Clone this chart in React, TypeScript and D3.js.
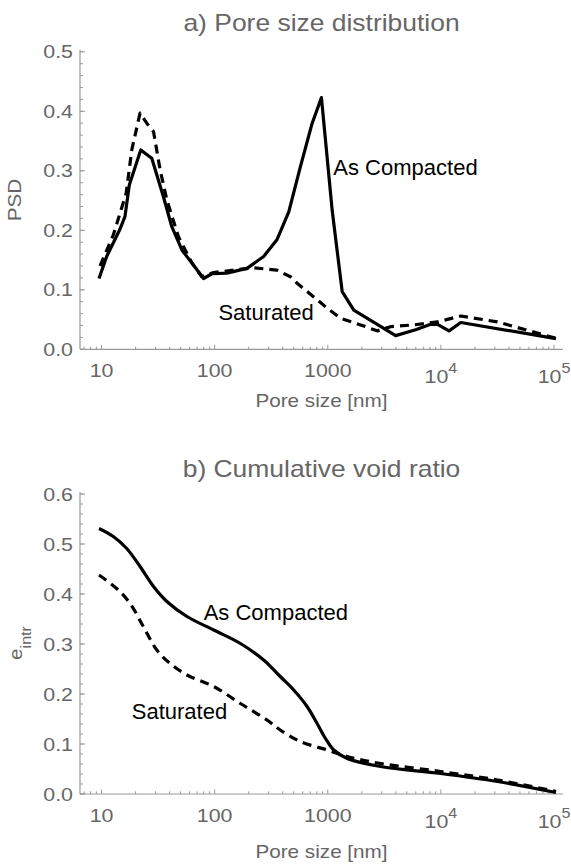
import React from "react";
import * as d3 from "d3";

const W = 571;
const H = 867;
const SX = 1.15; // the grey axis text is drawn a bit wider than plain Arial
const GREY = "#666";
const AXIS = "#9a9a9a";
const FONT = "'Liberation Sans', Arial, sans-serif";

// a) pore size distribution
const psdCompX = [9.5, 11.1, 14.4, 16.1, 17.6, 22.2, 27.8, 35.3, 41.8, 51.3, 62.9, 79.8, 94.6, 128, 193, 271, 355, 452, 573, 728, 879, 1093, 1341, 1698, 2737, 3980, 5980, 8130, 9330, 11800, 15000, 104000];
const psdCompY = [0.119, 0.156, 0.2, 0.223, 0.276, 0.335, 0.321, 0.256, 0.206, 0.167, 0.145, 0.119, 0.127, 0.128, 0.136, 0.156, 0.184, 0.231, 0.307, 0.38, 0.423, 0.234, 0.097, 0.066, 0.042, 0.023, 0.033, 0.042, 0.042, 0.031, 0.045, 0.018];
const psdSatX = [9.7, 12.7, 16.5, 18.5, 21.9, 25.1, 28.8, 33, 37.8, 47.9, 63, 77, 98, 147, 221, 355, 467, 536, 752, 988, 1300, 1950, 2737, 3590, 5750, 9330, 15000, 31600, 104000];
const psdSatY = [0.14, 0.192, 0.262, 0.335, 0.397, 0.38, 0.366, 0.301, 0.251, 0.189, 0.145, 0.122, 0.129, 0.133, 0.137, 0.133, 0.122, 0.111, 0.088, 0.069, 0.052, 0.041, 0.031, 0.038, 0.041, 0.046, 0.056, 0.046, 0.0185];

// b) cumulative void ratio
const cumCompX = [9.5, 12.7, 16.7, 21.9, 28.8, 37.8, 56.9, 98, 169, 271, 380, 500, 656, 805, 955, 1130, 1485, 2930, 9950, 31700, 104000];
const cumCompY = [0.531, 0.515, 0.491, 0.455, 0.415, 0.385, 0.355, 0.328, 0.301, 0.268, 0.235, 0.208, 0.175, 0.141, 0.111, 0.088, 0.071, 0.055, 0.041, 0.025, 0.003];
const cumSatX = [9.5, 13.6, 17.9, 23.4, 30.8, 40.4, 56.9, 98, 169, 290, 380, 573, 988, 1485, 2930, 9950, 31700, 104000];
const cumSatY = [0.438, 0.411, 0.381, 0.335, 0.288, 0.261, 0.238, 0.215, 0.181, 0.148, 0.128, 0.105, 0.088, 0.075, 0.061, 0.045, 0.028, 0.005];

// curve labels, in data coordinates (start of text, baseline)
const psdLabels = [
  { text: "As Compacted", x: 1120, y: 0.293 },
  { text: "Saturated", x: 108, y: 0.049 },
];
const cumLabels = [
  { text: "As Compacted", x: 80, y: 0.348 },
  { text: "Saturated", x: 18.5, y: 0.151 },
];

const xMajor = [10, 100, 1000, 10000, 100000];
const xTickText = ["10", "100", "1000", "10^4", "10^5"];

const xScale = d3.scaleLog().domain([6.45, 120100]).range([80, 563]);

function GText({ x, y, size, anchor = "start", rotate = false, children }: any) {
  return (
    <text
      transform={`translate(${x},${y})${rotate ? " rotate(-90)" : ""} scale(${SX},1)`}
      fontSize={size}
      fill={GREY}
      fontFamily={FONT}
      textAnchor={anchor}
    >
      {children}
    </text>
  );
}

function Panel({ title, titleY, yMax, yTop, yBottom, yLabel, xLabelY, series, labels, curve }: any) {
  const y = d3.scaleLinear().domain([0, yMax]).range([yBottom, yTop]);
  const line = d3
    .line<[number, number]>()
    .x((d) => xScale(d[0]))
    .y((d) => y(d[1]))
    .curve(curve);
  const [x0, x1] = xScale.range();
  const yMajor = y.ticks(Math.round(yMax * 10));
  const yMinor = y.ticks(Math.round(yMax * 50));
  const xMinor = xScale.ticks().filter((t) => !xMajor.includes(t));
  const fmt = d3.format(".1f");

  return (
    <g>
      <GText x={(x0 + x1) / 2} y={titleY} size={23} anchor="middle">{title}</GText>

      {/* axes */}
      <line x1={x0} x2={x1} y1={yBottom} y2={yBottom} stroke={AXIS} strokeWidth={1.2} />
      <line x1={x0} x2={x0} y1={yBottom} y2={yTop - 2} stroke={AXIS} strokeWidth={1.2} />
      {yMinor.map((t: number) => (
        <line key={"ym" + t} x1={x0} x2={x0 + 3} y1={y(t)} y2={y(t)} stroke={AXIS} />
      ))}
      {yMajor.map((t: number) => (
        <g key={"y" + t}>
          <line x1={x0} x2={x0 + 5} y1={y(t)} y2={y(t)} stroke={AXIS} />
          <GText x={x0 - 7} y={y(t) + 6.6} size={18.6} anchor="end">{fmt(t)}</GText>
        </g>
      ))}
      {xMinor.map((t: number) => (
        <line key={"xm" + t} x1={xScale(t)} x2={xScale(t)} y1={yBottom} y2={yBottom - 2.7} stroke={AXIS} />
      ))}
      {xMajor.map((t, i) => {
        const lab = xTickText[i];
        const sup = lab.includes("^");
        return (
          <g key={"x" + t}>
            <line x1={xScale(t)} x2={xScale(t)} y1={yBottom} y2={yBottom - 4.5} stroke={AXIS} />
            {sup ? (
              <GText x={xScale(t)} y={yBottom + 34} size={18.6} anchor="middle">
                {lab.split("^")[0]}
                <tspan fontSize={14} dy={-10}>{lab.split("^")[1]}</tspan>
              </GText>
            ) : (
              <GText x={xScale(t)} y={yBottom + 27.5} size={18.6} anchor="middle">{lab}</GText>
            )}
          </g>
        );
      })}

      {yLabel}
      <GText x={(x0 + x1) / 2} y={xLabelY} size={18} anchor="middle">Pore size [nm]</GText>

      {/* curves */}
      {series.map((s: any, i: number) => (
        <path
          key={i}
          d={line(s.x.map((v: number, j: number) => [v, s.y[j]]))!}
          fill="none"
          stroke="#000"
          strokeWidth={3.2}
          strokeDasharray={s.dashed ? "9,6" : undefined}
          strokeLinejoin="round"
        />
      ))}
      {labels.map((l: any) => (
        <text key={l.text} x={xScale(l.x)} y={y(l.y)} fontSize={22} fontFamily={FONT} fill="#000">
          {l.text}
        </text>
      ))}
    </g>
  );
}

export default function App() {
  return (
    <svg width={W} height={H} style={{ position: "absolute", left: 0, top: 0, background: "#fff" }}>
      <rect width={W} height={H} fill="#fff" />
      <Panel
        title="a) Pore size distribution"
        titleY={31}
        yMax={0.5}
        yTop={51.8}
        yBottom={349.3}
        xLabelY={407}
        curve={d3.curveLinear}
        series={[
          { x: psdCompX, y: psdCompY, dashed: false },
          { x: psdSatX, y: psdSatY, dashed: true },
        ]}
        labels={psdLabels}
        yLabel={<GText x={20.5} y={200} size={18} anchor="middle" rotate>PSD</GText>}
      />
      <Panel
        title="b) Cumulative void ratio"
        titleY={476.5}
        yMax={0.6}
        yTop={494}
        yBottom={794}
        xLabelY={858}
        curve={d3.curveCatmullRom.alpha(0.5)}
        series={[
          { x: cumCompX, y: cumCompY, dashed: false },
          { x: cumSatX, y: cumSatY, dashed: true },
        ]}
        labels={cumLabels}
        yLabel={
          <GText x={21.5} y={643} size={18} anchor="middle" rotate>
            e<tspan fontSize={14} dy={9}>intr</tspan>
          </GText>
        }
      />
    </svg>
  );
}
